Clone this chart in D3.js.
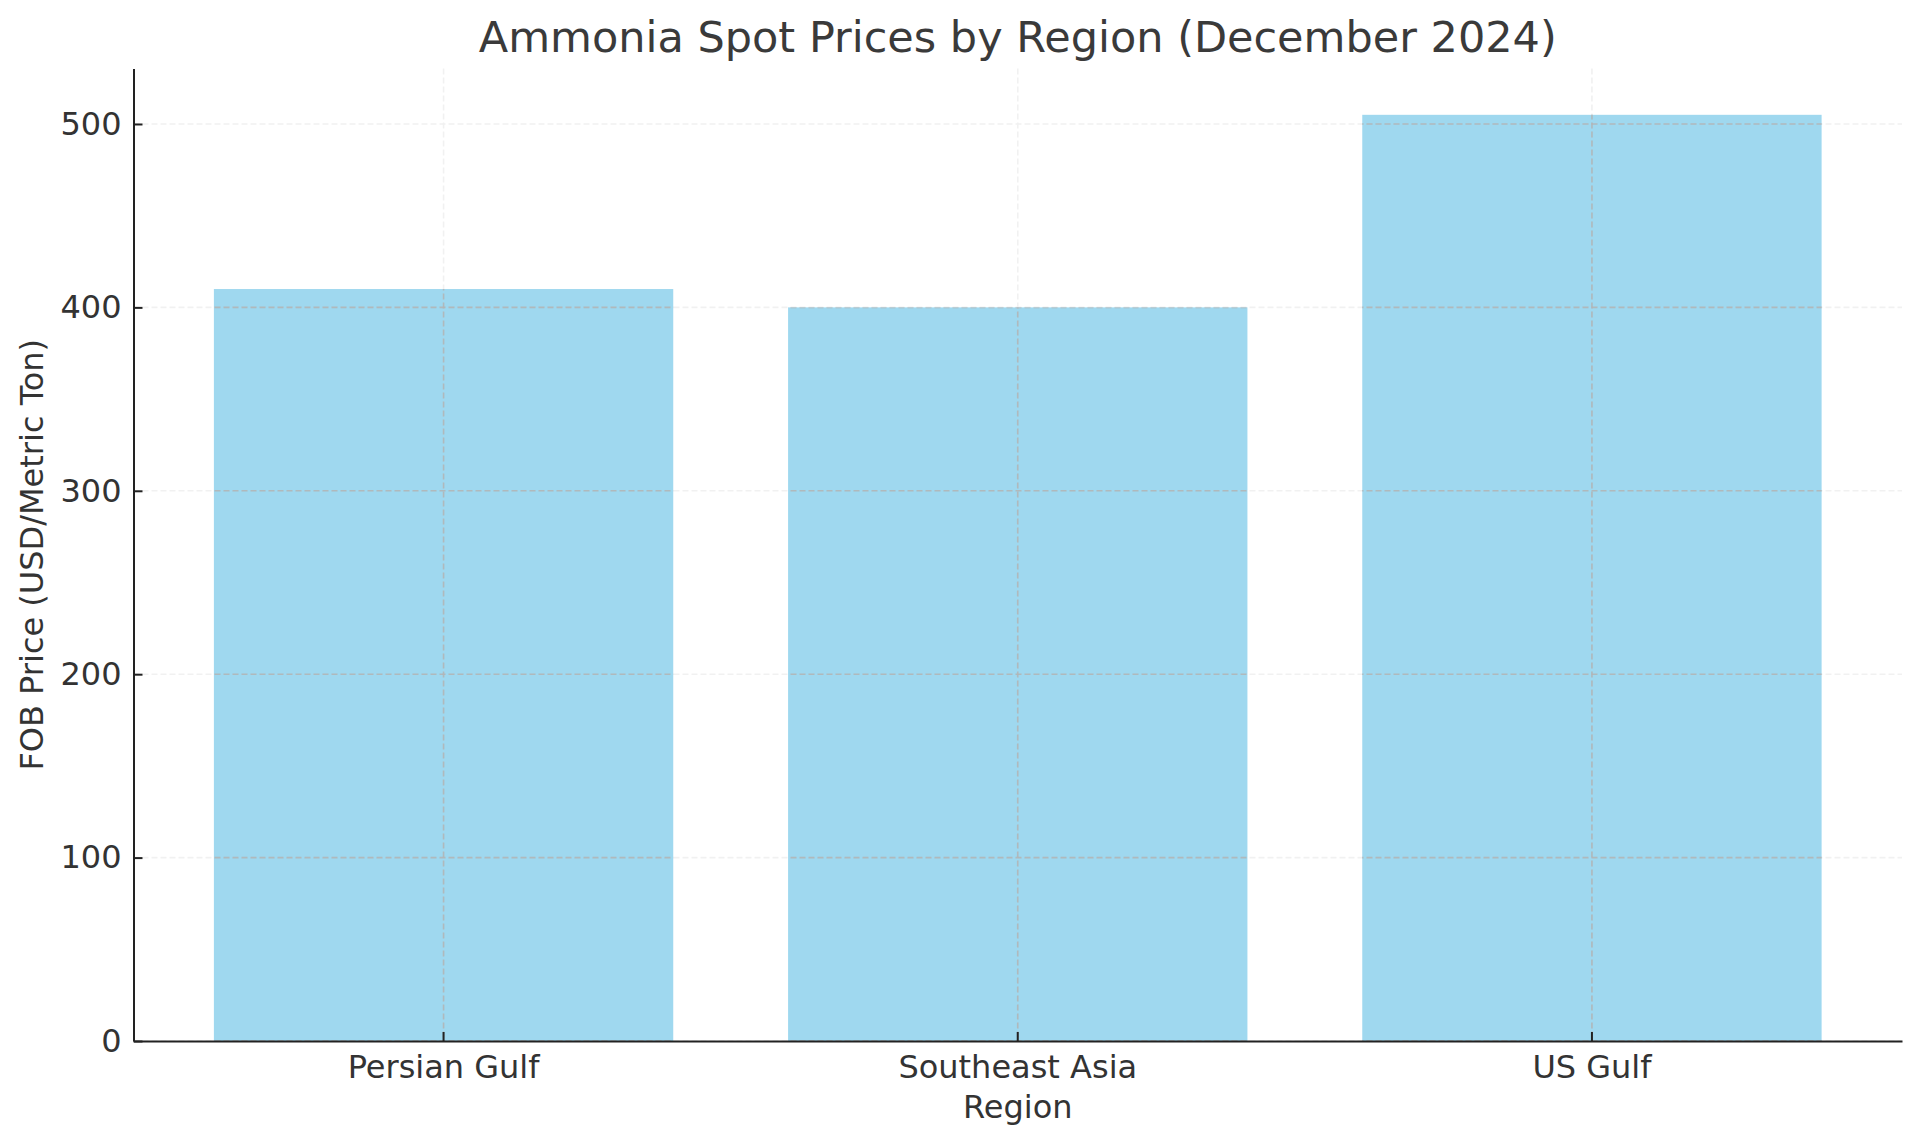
<!DOCTYPE html>
<html>
<head>
<meta charset="utf-8">
<script src="https://cdn.jsdelivr.net/npm/d3@7"></script>
<style>
  body { margin: 0; background: #fff; }
  text { font-family: "DejaVu Sans", sans-serif; fill: #333; }
</style>
</head>
<body>
<div id="chart"></div>
<script>
// data
const regions = ["Persian Gulf", "Southeast Asia", "US Gulf"];
const prices = [410, 400, 505];
const yTicks = [0, 100, 200, 300, 400, 500];

const width = 1920, height = 1145;
const margin = {top: 68.5, right: 18, bottom: 104, left: 133.5};

const svg = d3.select("#chart").append("svg")
  .attr("width", width)
  .attr("height", height);

const x = d3.scaleBand()
  .domain(regions)
  .range([margin.left, width - margin.right])
  .paddingInner(0.2)
  .paddingOuter(0.14);

const y = d3.scaleLinear()
  .domain([0, d3.max(prices) * 1.05])
  .range([height - margin.bottom, margin.top]);

const rows = regions.map((r, i) => ({region: r, price: prices[i]}));

// grid lines (faint, under the bars)
function drawGrid(g, color, opacity) {
  g.selectAll("line.h").data(yTicks).join("line")
    .attr("class", "h")
    .attr("x1", margin.left).attr("x2", width - margin.right)
    .attr("y1", d => y(d)).attr("y2", d => y(d));
  g.selectAll("line.v").data(regions).join("line")
    .attr("class", "v")
    .attr("x1", d => x(d) + x.bandwidth() / 2).attr("x2", d => x(d) + x.bandwidth() / 2)
    .attr("y1", margin.top).attr("y2", height - margin.bottom);
  g.attr("stroke", color)
    .attr("stroke-opacity", opacity)
    .attr("stroke-width", 1.6)
    .attr("stroke-dasharray", "6,3");
}

drawGrid(svg.append("g"), "#f1f1f1", 1);

// bars
svg.append("g")
  .selectAll("rect")
  .data(rows)
  .join("rect")
  .attr("x", d => x(d.region))
  .attr("y", d => y(d.price))
  .attr("width", x.bandwidth())
  .attr("height", d => y(0) - y(d.price))
  .attr("fill", "skyblue")
  .attr("fill-opacity", 0.8);

// grid shows darker where it crosses the bars
svg.append("clipPath").attr("id", "barclip")
  .selectAll("rect")
  .data(rows)
  .join("rect")
  .attr("x", d => x(d.region))
  .attr("y", d => y(d.price))
  .attr("width", x.bandwidth())
  .attr("height", d => y(0) - y(d.price));

drawGrid(svg.append("g").attr("clip-path", "url(#barclip)"), "#b4b4b4", 0.85);

// axes
const yAxis = svg.append("g")
  .attr("transform", `translate(${margin.left},0)`)
  .call(d3.axisLeft(y).tickValues(yTicks).tickSizeInner(-9).tickSizeOuter(0).tickPadding(12));

const xAxis = svg.append("g")
  .attr("transform", `translate(0,${height - margin.bottom})`)
  .call(d3.axisBottom(x).tickSizeInner(-9).tickSizeOuter(0).tickPadding(14));

[yAxis, xAxis].forEach(a => {
  a.select(".domain").attr("stroke", "#222").attr("stroke-width", 2);
  a.selectAll(".tick line").attr("stroke", "#222").attr("stroke-width", 2);
  a.selectAll(".tick text")
    .attr("font-size", 32)
    .attr("fill", "#333")
    .style("font-family", "DejaVu Sans, sans-serif");
});

// labels
svg.append("text")
  .attr("x", (margin.left + width - margin.right) / 2)
  .attr("y", 52)
  .attr("text-anchor", "middle")
  .attr("font-size", 43)
  .style("fill", "#3a3a3a")
  .text("Ammonia Spot Prices by Region (December 2024)");

svg.append("text")
  .attr("x", (margin.left + width - margin.right) / 2)
  .attr("y", 1118)
  .attr("text-anchor", "middle")
  .attr("font-size", 32)
  .text("Region");

svg.append("text")
  .attr("transform", `translate(43,${(margin.top + height - margin.bottom) / 2}) rotate(-90)`)
  .attr("text-anchor", "middle")
  .attr("font-size", 32)
  .text("FOB Price (USD/Metric Ton)");
</script>
</body>
</html>
